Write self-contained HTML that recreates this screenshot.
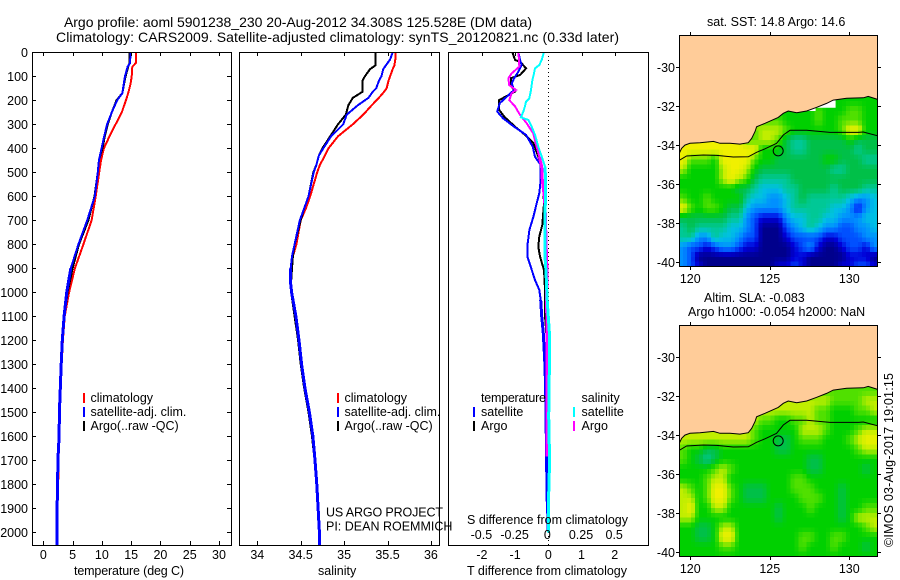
<!DOCTYPE html>
<html>
<head>
<meta charset="utf-8">
<title>Argo profile</title>
<style>
html,body{margin:0;padding:0;background:#fff;}
svg{display:block;}
text{font-family:"Liberation Sans",sans-serif;font-size:12.5px;fill:#000;}
.title{font-size:14px;}
</style>
</head>
<body>
<svg id="fig" xmlns="http://www.w3.org/2000/svg" width="900" height="580" viewBox="0 0 900 580">
<defs>
<clipPath id="clipT"><rect x="32" y="52" width="199" height="494"/></clipPath>
<clipPath id="clipS"><rect x="239" y="52" width="200" height="494"/></clipPath>
<clipPath id="clipD"><rect x="448" y="52" width="200" height="494"/></clipPath>
<clipPath id="clipM1"><rect x="679" y="35" width="198" height="232"/></clipPath>
<clipPath id="clipM2"><rect x="679" y="325" width="198" height="232"/></clipPath>
</defs>
<text class="title" x="64" y="27" textLength="468">Argo profile: aoml 5901238_230 20-Aug-2012 34.308S 125.528E (DM data)</text>
<text class="title" x="56" y="42" textLength="563">Climatology: CARS2009. Satellite-adjusted climatology: synTS_20120821.nc (0.33d later)</text>

<g id="gT"></g>
<g id="gS"></g>
<g id="gD"></g>
<g id="gM1"></g>
<g id="gM2"></g>

<text x="74" y="575" textLength="110">temperature (deg C)</text>
<text x="318" y="575">salinity</text>
<text x="467" y="575" textLength="160">T difference from climatology</text>
<text x="467" y="524" textLength="161">S difference from climatology</text>

<g>
<rect x="83" y="393" width="2" height="10" fill="#ff0000"/>
<rect x="83" y="407" width="2" height="10" fill="#0000ff"/>
<rect x="83" y="421" width="2" height="10" fill="#000"/>
<text x="90.5" y="402">climatology</text>
<text x="90.5" y="416">satellite-adj. clim.</text>
<text x="90.5" y="430">Argo(..raw -QC)</text>
</g>
<g>
<rect x="337" y="393" width="2" height="10" fill="#ff0000"/>
<rect x="337" y="407" width="2" height="10" fill="#0000ff"/>
<rect x="337" y="421" width="2" height="10" fill="#000"/>
<text x="344.5" y="402">climatology</text>
<text x="344.5" y="416">satellite-adj. clim.</text>
<text x="344.5" y="430">Argo(..raw -QC)</text>
</g>
<g>
<text x="481" y="402" textLength="65">temperature</text>
<rect x="473" y="407" width="2" height="10" fill="#0000ff"/>
<rect x="473" y="421" width="2" height="10" fill="#000"/>
<text x="481" y="416">satellite</text>
<text x="481" y="430">Argo</text>
<text x="581.5" y="402">salinity</text>
<rect x="573" y="407" width="2" height="10" fill="#00ffff"/>
<rect x="573" y="421" width="2" height="10" fill="#ff00ff"/>
<text x="581.5" y="416">satellite</text>
<text x="581.5" y="430">Argo</text>
</g>
<text x="326" y="516.5" textLength="117">US ARGO PROJECT</text>
<text x="326" y="530.5">PI: DEAN ROEMMICH</text>

<text x="707" y="26">sat. SST: 14.8 Argo: 14.6</text>
<text x="704" y="302">Altim. SLA: -0.083</text>
<text x="688" y="316">Argo h1000: -0.054 h2000: NaN</text>
<text transform="translate(893,547) rotate(-90)" textLength="174">©IMOS 03-Aug-2017 19:01:15</text>
</svg>
<script>
// ---- chart data ----
const depthTicks = [100,200,300,400,500,600,700,800,900,1000,1100,1200,1300,1400,1500,1600,1700,1800,1900,2000];
const tempTicks = [0,5,10,15,20,25,30];
const salTicks = [34,34.5,35,35.5,36];
const salTickLabels = ['34','34.5','35','35.5','36'];
const tDiffTicks = [-2,-1,0,1,2];
const sDiffTicks = [-0.5,-0.25,0,0.25,0.5];
const sDiffLabels = ['-0.5','-0.25','0','0.25','0.5'];

const tDepths = [0,45,60,100,130,170,200,250,300,350,400,450,500,600,700,800,900,1000,1100,1200,1300,1400,1500,1600,1700,1800,1900,2000,2055];
const tempClim = [15.8,15.8,15.2,15.1,14.9,14.5,14.1,13.4,12.35,11.3,10.35,9.85,9.55,8.95,8.25,6.85,5.4,4.4,3.65,3.35,3.15,2.95,2.8,2.75,2.6,2.55,2.4,2.35,2.35];
const tempArgo = [14.7,14.7,14.5,14.05,13.8,13.5,12.5,11.7,11,10.5,10.1,9.5,9.3,8.75,7.7,6.1,5,4.15,3.6,3.3,3.1,2.9,2.75,2.7,2.5,2.45,2.35,2.35,2.35];
const tempSat = [14.9,14.8,14.4,13.95,13.75,13.5,12.6,11.7,10.9,10.4,9.95,9.5,9.3,8.8,7.5,6,4.7,4,3.55,3.25,3.05,2.9,2.75,2.7,2.5,2.45,2.35,2.35,2.35];

const sDepths = [0,30,55,70,100,120,150,165,190,220,260,300,350,400,430,470,500,600,650,700,800,850,900,950,1000,1100,1200,1300,1400,1500,1600,1700,1800,1900,2000,2055];
const salClim = [35.59,35.59,35.58,35.56,35.53,35.51,35.49,35.46,35.4,35.32,35.22,35.1,34.93,34.82,34.78,34.72,34.69,34.61,34.56,34.5,34.45,34.41,34.4,34.39,34.39,34.44,34.47,34.5,34.54,34.59,34.63,34.66,34.68,34.7,34.715,34.72];
const salArgo = [35.36,35.36,35.36,35.3,35.24,35.21,35.21,35.21,35.1,35.05,35.02,34.93,34.84,34.75,34.71,34.68,34.645,34.59,34.54,34.5,34.43,34.41,34.4,34.39,34.39,34.43,34.47,34.5,34.54,34.59,34.63,34.66,34.68,34.7,34.71,34.72];
const salSat = [35.56,35.53,35.48,35.45,35.43,35.4,35.37,35.33,35.28,35.16,35.03,34.99,34.85,34.76,34.71,34.68,34.65,34.59,34.54,34.49,34.43,34.4,34.385,34.38,34.395,34.445,34.48,34.51,34.55,34.6,34.64,34.665,34.685,34.7,34.715,34.715];

const argoTDepths = [0,32,39,67,94,108,136,164,178,199,240,271,310,344,379,435,476,532,574,629,719,768,810,851,907,990,1100,1171,1250,1310,1500,1520];
const argoTDiff = [-1.08,-1,-0.85,-0.67,-0.85,-1.13,-1.13,-1,-1.2,-1.48,-1.48,-1.31,-1,-0.7,-0.45,-0.3,-0.2,-0.2,-0.15,-0.13,-0.18,-0.27,-0.3,-0.25,-0.13,-0.1,-0.1,-0.06,-0.06,-0.05,-0.05,0];
const satTDepths = [0,32,53,81,108,129,157,185,212,247,275,310,344,393,435,469,532,587,629,685,740,796,851,893,949,990,1032,1100,1171,1250,1310,1400,1518,1685,1851,1900,2000];
const satTDiff = [-0.9,-0.85,-0.8,-0.9,-1.03,-1.1,-1.03,-1.25,-1.46,-1.54,-1.36,-1.03,-0.67,-0.47,-0.4,-0.23,-0.23,-0.27,-0.35,-0.45,-0.57,-0.62,-0.63,-0.53,-0.4,-0.27,-0.23,-0.2,-0.15,-0.12,-0.1,-0.08,-0.07,-0.05,-0.04,-0.02,0];
const argoSDepths = [0,32,60,88,108,136,157,171,199,226,261,296,338,393,435,476,532,601,643,699,782,907,1032,1171,1400,1518,1685];
const argoSDiff = [-0.226,-0.22,-0.218,-0.276,-0.3,-0.296,-0.243,-0.276,-0.294,-0.25,-0.213,-0.163,-0.113,-0.088,-0.068,-0.05,-0.045,-0.03,-0.025,-0.02,-0.018,-0.01,-0.0125,-0.01,-0.008,-0.01,-0.01];
const satSDepths = [0,32,53,67,88,115,157,192,206,226,247,271,282,310,344,393,435,476,532,629,643,782,851,907,1032,1171,1300,1518,1700,1900,2000];
const satSDiff = [-0.033,-0.05,-0.068,-0.1,-0.108,-0.12,-0.13,-0.143,-0.168,-0.176,-0.188,-0.206,-0.15,-0.125,-0.1,-0.075,-0.05,-0.025,-0.02,-0.02,-0.025,-0.025,-0.025,-0.018,-0.008,0.008,0.008,0.003,0.01,0,0];

// map values: colour-scale class 0..a per half-degree cell, first row at 31.5S, first column at 119.3E
const sstRows = [
"7777777777777777777777777",
"7777777777777777787778877",
"aaaaaaaaaa888777787788877",
"aaaaaaaaa899987777778aa77",
"aaaaaaaa88998655666667666",
"aaaaaaaaaa777655666666566",
"a8887aaaa8776666667766655",
"977779aa97666666666556666",
"777779a986555566666666666",
"7777777665444556666566655",
"8778777754433456555554334",
"a878876643333455555443134",
"6666665532111344554433344",
"5655554432000234543322334",
"5533544322000122221122233",
"3221233211000012310012213",
"3200000000000011000001110",
"3210000000001121000011221"];
const slaRows = [
"8888888888888888888888888",
"9999999999999999999888899",
"9999999999999999988777889",
"9999999999887788988777777",
"9999999998777779998777899",
"99999999987766788877789aa",
"8776677777776677777777899",
"8765677777777777667777777",
"7777898777777777667777767",
"7778997777777788777777777",
"9878aa8766677788877767777",
"9978aa8766677778887767777",
"9a77997777776777877767788",
"9977777777776777777767999",
"7766799777777777777777789",
"77667aa777777778877887777",
"7777788777777778777877767",
"7777777777777777777777777"];
const colourScale = [[0,0,140],[0,0,216],[0,80,255],[0,144,255],[0,192,228],[0,200,150],[0,192,72],[0,208,0],[80,224,0],[192,238,0],[240,240,0]];

const coastLon = [119.31,119.45,119.66,119.98,120.61,121.45,121.87,122.49,123.12,123.65,123.86,124.07,124.17,124.7,125.53,125.85,126.16,126.69,127.32,127.95,128.57,128.99,129.83,130.88,131.19,131.76];
const coastLat = [-34.43,-34.18,-34.01,-33.92,-33.89,-33.82,-33.92,-33.92,-33.96,-33.89,-33.66,-33.32,-33.07,-32.89,-32.59,-32.38,-32.26,-32.35,-32.26,-32.07,-31.87,-31.7,-31.61,-31.58,-31.51,-31.66];
const shelfLon = [119.31,119.77,120.82,121.66,122.7,123.65,124.17,124.7,125.43,125.85,126.27,127.32,128.78,130.57,130.88,131.76];
const shelfLat = [-34.79,-34.57,-34.52,-34.54,-34.62,-34.61,-34.38,-34.2,-33.92,-33.49,-33.25,-33.25,-33.36,-33.36,-33.34,-33.53];
const noDataLon = [127.32,127.88,127.88,129.14,129.14,128.99,128.57,127.95];
const noDataLat = [-32.26,-32.26,-32.09,-32.09,-31.7,-31.7,-31.87,-32.07];
const floatLon = 125.528;
const floatLat = -34.308;
const lonTicks = [120,125,130];
const latTicks = [-30,-32,-34,-36,-38,-40];

// ---- axis functions ----
const NS = 'http://www.w3.org/2000/svg';
const depthY = d => 52.3 + 0.24 * d;
const tempX = t => 43.3 + 5.857 * t;
const salX = s => 257.3 + 86.8 * (s - 34);
const tDiffX = t => 548.3 + 33.2 * t;
const sDiffX = s => 548.3 + 132.8 * s;
const lonX = l => 690.3 + 15.9 * (l - 120);
const latY = (l, off) => 67 + off + 19.47 * (-30 - l);

function make(tag, parent, attrs) {
  const e = document.createElementNS(NS, tag);
  for (const k in attrs) e.setAttribute(k, attrs[k]);
  parent.appendChild(e);
  return e;
}
function tickLine(parent, x1, y1, x2, y2) {
  const l = make('line', parent, {x1: x1, y1: y1, x2: x2, y2: y2, stroke: '#000', 'stroke-width': 1, 'shape-rendering': 'crispEdges'});
  
  
  return l;
}
function tickLabel(parent, x, y, anchor, str) {
  const t = make('text', parent, {x: x, y: y, 'text-anchor': anchor});
  t.textContent = str;
  
  
  return t;
}
function frame(parent, x, y, w, h) {
  const r = make('rect', parent, {x: x + .5, y: y + .5, width: w, height: h, fill: 'none', stroke: '#000', 'stroke-width': 1, 'shape-rendering': 'crispEdges'});
  
  
  return r;
}
// line is drawn 2px wide, and 3px below the depth where the source plot's stair-stepping thickens it
function profile(parent, clip, xf, vals, depths, colour, deepFrom) {
  const g = make('g', parent, {'clip-path': 'url(#' + clip + ')'});
  const pts = vals.map((v, i) => xf(v).toFixed(1) + ',' + depthY(depths[i]).toFixed(1));
  make('polyline', g, {points: pts.join(' '), fill: 'none', stroke: colour, 'stroke-width': 2, 'shape-rendering': 'crispEdges'});
  if (deepFrom !== undefined) {
    const deep = pts.filter((p, i) => depths[i] >= deepFrom);
    make('polyline', g, {points: deep.join(' '), fill: 'none', stroke: colour, 'stroke-width': 3, 'shape-rendering': 'crispEdges'});
  }
  return g;
}

// ---- temperature panel ----
const gT = document.getElementById('gT');
const lineTClim = profile(gT, 'clipT', tempX, tempClim, tDepths, '#ff0000');


const lineTArgo = profile(gT, 'clipT', tempX, tempArgo, tDepths, '#000000');


const lineTSat = profile(gT, 'clipT', tempX, tempSat, tDepths, '#0000ff', 900);


frame(gT, 32, 52, 199, 493);
tickLabel(gT, 28, 57, 'end', '0');
depthTicks.forEach(d => {
  const y = Math.round(depthY(d)) + .5;
  tickLine(gT, 32, y, 36, y);
  tickLine(gT, 227, y, 231, y);
  tickLabel(gT, 28, y + 4.5, 'end', String(d));
});
tempTicks.forEach(t => {
  const x = Math.round(tempX(t)) + .5;
  tickLine(gT, x, 52, x, 56);
  tickLine(gT, x, 541, x, 545);
  tickLabel(gT, tempX(t), 559, 'middle', String(t));
});

// ---- salinity panel ----
const gS = document.getElementById('gS');
const lineSClim = profile(gS, 'clipS', salX, salClim, sDepths, '#ff0000');


const lineSArgo = profile(gS, 'clipS', salX, salArgo, sDepths, '#000000');


const lineSSat = profile(gS, 'clipS', salX, salSat, sDepths, '#0000ff', 900);


frame(gS, 239, 52, 200, 493);
salTicks.forEach((s, i) => {
  const x = Math.round(salX(s)) + .5;
  tickLine(gS, x, 52, x, 56);
  tickLine(gS, x, 541, x, 545);
  tickLabel(gS, salX(s), 559, 'middle', salTickLabels[i]);
});

// ---- difference panel ----
const gD = document.getElementById('gD');
const zeroLine = make('line', gD, {x1: 548.5, y1: 52, x2: 548.5, y2: 545, stroke: '#000', 'stroke-width': 1, 'stroke-dasharray': '1 3', 'shape-rendering': 'crispEdges'});


const lineDTArgo = profile(gD, 'clipD', tDiffX, argoTDiff, argoTDepths, '#000000');


const lineDTSat = profile(gD, 'clipD', tDiffX, satTDiff, satTDepths, '#0000ff', 1000);


const lineDSArgo = profile(gD, 'clipD', sDiffX, argoSDiff, argoSDepths, '#ff00ff', 400);


const lineDSSat = profile(gD, 'clipD', sDiffX, satSDiff, satSDepths, '#00ffff', 450);


frame(gD, 448, 52, 200, 493);
tDiffTicks.forEach(t => {
  const x = Math.round(tDiffX(t)) + .5;
  if (t !== 0) tickLine(gD, x, 52, x, 56);
  tickLabel(gD, tDiffX(t), 559, 'middle', String(t));
});
sDiffTicks.forEach((s, i) => {
  tickLabel(gD, sDiffX(s) - (s === 0 ? 1 : 0.5), 539, 'middle', sDiffLabels[i]);
});

// ---- maps ----
// smooth shading of a half-degree class grid, painted on quarter-degree pixels
function sampleGrid(rows, r, c) {
  const rr = Math.max(0, Math.min(rows.length - 1, r));
  const cc = Math.max(0, Math.min(rows[0].length - 1, c));
  const r0 = Math.floor(rr), c0 = Math.floor(cc);
  const r1 = Math.min(rows.length - 1, r0 + 1), c1 = Math.min(rows[0].length - 1, c0 + 1);
  const fr = rr - r0, fc = cc - c0;
  const v = (a, b) => parseInt(rows[a][b], 16);
  return (v(r0, c0) * (1 - fc) + v(r0, c1) * fc) * (1 - fr) + (v(r1, c0) * (1 - fc) + v(r1, c1) * fc) * fr;
}
function scaleColour(v) {
  const i = Math.min(colourScale.length - 2, Math.floor(v));
  const f = v - i;
  const a = colourScale[i], b = colourScale[i + 1];
  return 'rgb(' + a.map((x, k) => Math.round(x + (b[k] - x) * f)).join(',') + ')';
}
function drawMap(id, rows, off, clip, showNoData) {
  const g = document.getElementById(id);
  const cellW = 0.25 * 15.9;
  const cellH = 0.25 * 19.47;
  for (let r = 0; r < rows.length * 2; r++) {
    for (let c = 0; c < rows[0].length * 2; c++) {
      const v = sampleGrid(rows, (r + .5) / 2 - .5, (c + .5) / 2 - .5);
      const cell = make('rect', g, {
        x: lonX(119.3 + c * 0.25).toFixed(1),
        y: latY(-31.5 - r * 0.25, off).toFixed(1),
        width: cellW + .5,
        height: cellH + .5,
        fill: scaleColour(v),
        'clip-path': 'url(#' + clip + ')',
        'shape-rendering': 'crispEdges'
      });
      
      
    }
  }
  let landPts = lonX(119.3) + ',' + latY(-28, off) + ' ';
  coastLon.forEach((l, i) => { landPts = lonX(l).toFixed(1) + ',' + latY(coastLat[i], off).toFixed(1) + ' ' + landPts; });
  landPts += lonX(132) + ',' + latY(-28, off) + ' ' + lonX(132) + ',' + latY(coastLat[coastLat.length - 1], off);
  const land = make('polygon', g, {points: landPts, fill: '#ffcc99', 'clip-path': 'url(#' + clip + ')'});
  
  
  if (showNoData) {
    const gap = make('polygon', g, {points: noDataLon.map((l, i) => lonX(l).toFixed(1) + ',' + latY(noDataLat[i], off).toFixed(1)).join(' '), fill: '#fff'});
    
    
  }
  const coast = make('polyline', g, {points: coastLon.map((l, i) => lonX(l).toFixed(1) + ',' + latY(coastLat[i], off).toFixed(1)).join(' '), fill: 'none', stroke: '#000', 'stroke-width': 1, 'clip-path': 'url(#' + clip + ')'});
  
  
  const shelf = make('polyline', g, {points: shelfLon.map((l, i) => lonX(l).toFixed(1) + ',' + latY(shelfLat[i], off).toFixed(1)).join(' '), fill: 'none', stroke: '#000', 'stroke-width': 1, 'clip-path': 'url(#' + clip + ')'});
  
  
  const marker = make('circle', g, {cx: lonX(floatLon), cy: latY(floatLat, off), r: 5, fill: 'none', stroke: '#000', 'stroke-width': 1});
  
  
  const top = 35 + off, bottom = 266 + off;
  frame(g, 679, top, 198, 231);
  lonTicks.forEach(l => {
    const x = Math.round(lonX(l)) + .5;
    tickLine(g, x, top - 3, x, top);
    tickLine(g, x, bottom + 1, x, bottom + 4);
    tickLabel(g, lonX(l), 283 + off, 'middle', String(l));
  });
  latTicks.forEach(l => {
    const y = Math.round(latY(l, off)) + .5;
    tickLine(g, 676, y, 679, y);
    tickLine(g, 878, y, 881, y);
    tickLabel(g, 675, y + 4.5, 'end', String(l));
  });
}
drawMap('gM1', sstRows, 0, 'clipM1', true);
drawMap('gM2', slaRows, 290, 'clipM2', false);
</script>
</body>
</html>
